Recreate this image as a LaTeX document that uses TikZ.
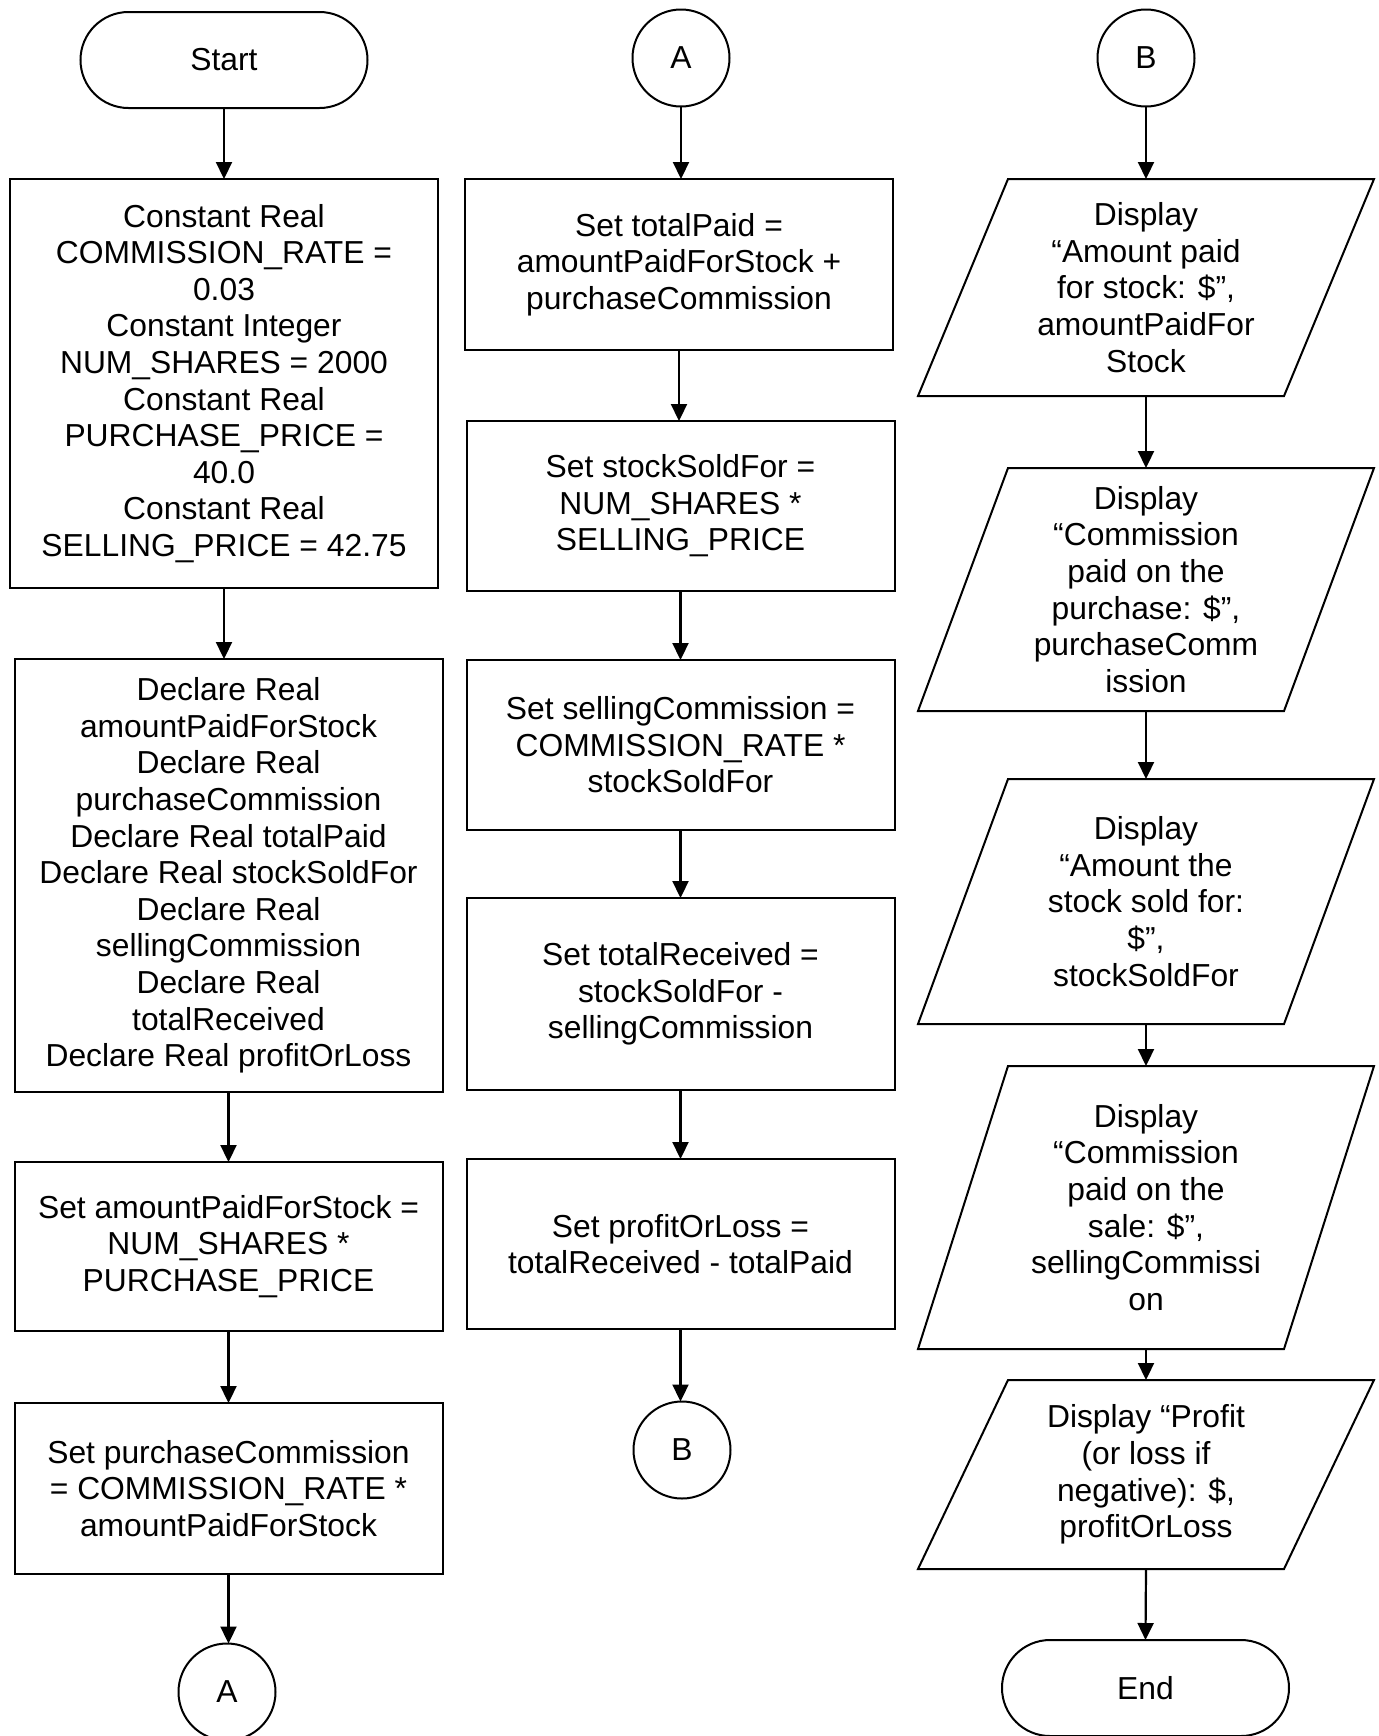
\documentclass[tikz,border=0pt]{standalone}
\usepackage{fontspec}
\setmainfont{Liberation Sans}
\usetikzlibrary{arrows.meta,calc}

\begin{document}
\begin{tikzpicture}[x=0.5pt,y=-0.5pt]
% Styles

   \tikzstyle{txt} = [font=\fontsize{15.9pt}{18.3pt}\selectfont, align=center, inner sep=0pt, outer sep=0pt]
   \tikzstyle{proc} = [txt, draw, shape=rectangle, line width=1pt, minimum width=214pt]
   \tikzstyle{term} = [txt, draw, shape=rectangle, rounded corners=24pt, line width=1pt, minimum width=143.5pt, minimum height=48pt]
   \tikzstyle{conn} = [txt, draw, shape=circle, line width=1pt, minimum size=48.5pt]
   \tikzstyle{io} = [txt, shape=rectangle, minimum width=183pt]
   \tikzstyle{flow} = [-{Triangle[width=8pt,length=8.5pt]}, line width=1.1pt]

\useasboundingbox (0,0) rectangle (1379,1736);

% Column 1
\node[term] (start) at (224,60) {Start};
\node[proc, minimum height=204.5pt] (const) at (224,383.5) {Constant Real\\COMMISSION\_RATE =\\0.03\\Constant Integer\\NUM\_SHARES = 2000\\Constant Real\\PURCHASE\_PRICE =\\40.0\\Constant Real\\SELLING\_PRICE = 42.75};
\node[proc, minimum height=216.5pt] (decl) at (228.5,875.5) {Declare Real\\amountPaidForStock\\Declare Real\\purchaseCommission\\Declare Real totalPaid\\Declare Real stockSoldFor\\Declare Real\\sellingCommission\\Declare Real\\totalReceived\\Declare Real profitOrLoss};
\node[proc, minimum height=84.5pt] (setpaid) at (228.5,1246.5) {Set amountPaidForStock =\\NUM\_SHARES *\\PURCHASE\_PRICE};
\node[proc, minimum height=85.5pt] (setcomm) at (228.5,1488.5) {Set purchaseCommission\\= COMMISSION\_RATE *\\amountPaidForStock};
\node[conn] (toA) at (227,1692) {A};

% Column 2
\node[conn] (fromA) at (681,58) {A};
\node[proc, minimum height=85.5pt] (settotal) at (679,264.5) {Set totalPaid =\\amountPaidForStock +\\purchaseCommission};
\node[proc, minimum height=85pt] (setsold) at (680.5,506) {Set stockSoldFor =\\NUM\_SHARES *\\SELLING\_PRICE};
\node[proc, minimum height=85pt] (setsellcomm) at (680.5,745) {Set sellingCommission =\\COMMISSION\_RATE *\\stockSoldFor};
\node[proc, minimum height=96pt] (setrecv) at (680.5,994) {Set totalReceived =\\stockSoldFor -\\sellingCommission};
\node[proc, minimum height=85pt] (setprofit) at (680.5,1244) {Set profitOrLoss =\\totalReceived - totalPaid};
\node[conn] (toB) at (682,1450) {B};

% Column 3
\node[conn] (fromB) at (1146,58) {B};
\node[io, minimum height=108.5pt] (showpaid) at (1146,287.5) {Display\\“Amount paid\\for stock: \$”,\\amountPaidFor\\Stock};
\node[io, minimum height=121.5pt] (showcomm) at (1146,589.5) {Display\\“Commission\\paid on the\\purchase: \$”,\\purchaseComm\\ission};
\node[io, minimum height=122.5pt] (showsold) at (1146,901.5) {Display\\“Amount the\\stock sold for:\\\$”,\\stockSoldFor};
\node[io, minimum height=141.5pt] (showsellcomm) at (1146,1207.5) {Display\\“Commission\\paid on the\\sale: \$”,\\sellingCommissi\\on};
\node[io, minimum height=94.5pt] (showprofit) at (1146,1474.5) {Display “Profit\\(or loss if\\negative): \$,\\profitOrLoss};
\node[term] (stop) at (1145.5,1688) {End};

\foreach \n in {showpaid,showcomm,showsold,showsellcomm,showprofit}
    \draw[line width=1pt] ($(\n.north west)+(45,0)$) -- ($(\n.north east)+(45,0)$) -- ($(\n.south east)-(45,0)$) -- ($(\n.south west)-(45,0)$) -- cycle;

% Flow lines
\draw[flow] (start.south) -- (start.south |- const.north);
\draw[flow] (const.south) -- (const.south |- decl.north);
\draw[flow] (decl.south) -- (decl.south |- setpaid.north);
\draw[flow] (setpaid.south) -- (setpaid.south |- setcomm.north);
\draw[flow] (setcomm.south) -- (setcomm.south |- toA.north);

\draw[flow] (fromA.south) -- (fromA.south |- settotal.north);
\draw[flow] (settotal.south) -- (settotal.south |- setsold.north);
\draw[flow] (setsold.south) -- (setsold.south |- setsellcomm.north);
\draw[flow] (setsellcomm.south) -- (setsellcomm.south |- setrecv.north);
\draw[flow] (setrecv.south) -- (setrecv.south |- setprofit.north);
\draw[flow] (setprofit.south) -- (setprofit.south |- toB.north);

\draw[flow] (fromB.south) -- (showpaid.north);
\draw[flow] (showpaid.south) -- (showcomm.north);
\draw[flow] (showcomm.south) -- (showsold.north);
\draw[flow] (showsold.south) -- (showsellcomm.north);
\draw[flow] (showsellcomm.south) -- (showprofit.north);
\draw[flow] (showprofit.south) -- (stop.north);
\end{tikzpicture}
\end{document}
